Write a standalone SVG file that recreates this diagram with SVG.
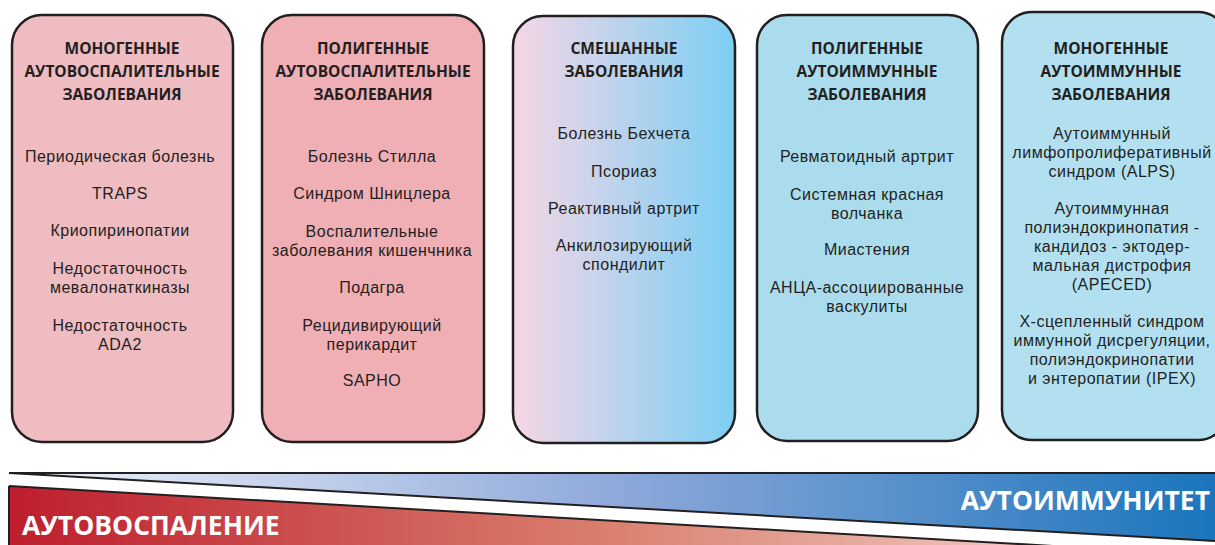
<svg xmlns="http://www.w3.org/2000/svg" width="1215" height="545" viewBox="0 0 1215 545">
<defs>
<linearGradient id="gMix" x1="0" y1="0" x2="1" y2="0">
<stop offset="0" stop-color="#f6d6e6"/><stop offset="1" stop-color="#7ccff3"/>
</linearGradient>
<linearGradient id="gBlue" x1="9" y1="0" x2="1215" y2="0" gradientUnits="userSpaceOnUse">
<stop offset="0" stop-color="#f2f4fb"/><stop offset="0.5" stop-color="#8fa9da"/><stop offset="1" stop-color="#1b75bc"/>
</linearGradient>
<linearGradient id="gRed" x1="9" y1="0" x2="1100" y2="0" gradientUnits="userSpaceOnUse">
<stop offset="0" stop-color="#be1e2d"/><stop offset="0.55" stop-color="#d9806f"/><stop offset="1" stop-color="#f4d3cb"/>
</linearGradient>
</defs>
<style>
.box{stroke:#231f20;stroke-width:2.5}
.t{font-family:"Open Sans","Liberation Sans",sans-serif;font-size:15.5px;font-weight:bold;fill:#231f20;text-anchor:middle}
.i{font-family:"Liberation Sans",Arial,sans-serif;font-size:16px;letter-spacing:0.5px;fill:#231f20;text-anchor:middle}
.big{font-family:"Open Sans","Liberation Sans",sans-serif;font-weight:bold;fill:#ffffff}
</style>
<g id="node1">
<rect class="box" x="12" y="15" width="221" height="427" rx="30" fill="#efbcc2"/>
<text class="t" x="122" y="54">МОНОГЕННЫЕ<tspan x="122" dy="23">АУТОВОСПАЛИТЕЛЬНЫЕ</tspan><tspan x="122" dy="23">ЗАБОЛЕВАНИЯ</tspan></text>
<text class="i" x="120" y="162">Периодическая болезнь</text>
<text class="i" x="120" y="199">TRAPS</text>
<text class="i" x="120" y="236">Криопиринопатии</text>
<text class="i" x="120" y="274">Недостаточность<tspan x="120" dy="19">мевалонаткиназы</tspan></text>
<text class="i" x="120" y="331">Недостаточность<tspan x="120" dy="18.5">ADA2</tspan></text>
</g>
<g id="node2">
<rect class="box" x="262" y="15" width="222" height="427" rx="30" fill="#f0aeb5"/>
<text class="t" x="373" y="54">ПОЛИГЕННЫЕ<tspan x="373" dy="23">АУТОВОСПАЛИТЕЛЬНЫЕ</tspan><tspan x="373" dy="23">ЗАБОЛЕВАНИЯ</tspan></text>
<text class="i" x="372" y="162">Болезнь Стилла</text>
<text class="i" x="372" y="199">Синдром Шницлера</text>
<text class="i" x="372" y="237">Воспалительные<tspan x="372" dy="18.5">заболевания кишенчника</tspan></text>
<text class="i" x="372" y="293">Подагра</text>
<text class="i" x="372" y="331">Рецидивирующий<tspan x="372" dy="18.5">перикардит</tspan></text>
<text class="i" x="372" y="386">SAPHO</text>
</g>
<g id="node3">
<rect class="box" x="513" y="16" width="222" height="427" rx="30" fill="url(#gMix)"/>
<text class="t" x="624" y="54">СМЕШАННЫЕ<tspan x="624" dy="23">ЗАБОЛЕВАНИЯ</tspan></text>
<text class="i" x="624" y="139">Болезнь Бехчета</text>
<text class="i" x="624" y="177">Псориаз</text>
<text class="i" x="624" y="214">Реактивный артрит</text>
<text class="i" x="624" y="251">Анкилозирующий<tspan x="624" dy="19">спондилит</tspan></text>
</g>
<g id="node4">
<rect class="box" x="757" y="15" width="221" height="426" rx="30" fill="#aadcee"/>
<text class="t" x="867" y="54">ПОЛИГЕННЫЕ<tspan x="867" dy="23">АУТОИММУННЫЕ</tspan><tspan x="867" dy="23">ЗАБОЛЕВАНИЯ</tspan></text>
<text class="i" x="867" y="162">Ревматоидный артрит</text>
<text class="i" x="867" y="200">Системная красная<tspan x="867" dy="18.5">волчанка</tspan></text>
<text class="i" x="867" y="255">Миастения</text>
<text class="i" x="867" y="293">АНЦА-ассоциированные<tspan x="867" dy="18.5">васкулиты</tspan></text>
</g>
<g id="node5">
<rect class="box" x="1002" y="12" width="226" height="428" rx="30" fill="#b2e0f1"/>
<text class="t" x="1111" y="54">МОНОГЕННЫЕ<tspan x="1111" dy="23">АУТОИММУННЫЕ</tspan><tspan x="1111" dy="23">ЗАБОЛЕВАНИЯ</tspan></text>
<text class="i" x="1112" y="139">Аутоиммунный<tspan x="1112" dy="19">лимфопролиферативный</tspan><tspan x="1112" dy="19">синдром (ALPS)</tspan></text>
<text class="i" x="1112" y="214">Аутоиммунная<tspan x="1112" dy="19">полиэндокринопатия -</tspan><tspan x="1112" dy="19">кандидоз - эктодер-</tspan><tspan x="1112" dy="19">мальная дистрофия</tspan><tspan x="1112" dy="18.5">(APECED)</tspan></text>
<text class="i" x="1112" y="327">Х-сцепленный синдром<tspan x="1112" dy="19">иммунной дисрегуляции,</tspan><tspan x="1112" dy="19">полиэндокринопатии</tspan><tspan x="1112" dy="18.5">и энтеропатии (IPEX)</tspan></text>
</g>
<g id="axis">
<polygon points="9,473 1215,473 1215,541" fill="url(#gBlue)"/>
<polygon points="9,486 1140,551 9,551" fill="url(#gRed)"/>
<g stroke="#231f20" stroke-width="2" fill="none">
<line x1="9" y1="473" x2="1215" y2="473"/>
<line x1="9" y1="473" x2="1215" y2="541"/>
<line x1="9" y1="486" x2="1140" y2="551"/>
<line x1="9" y1="486" x2="9" y2="545"/>
</g>
<text class="big" x="22" y="535" font-size="26.5">АУТОВОСПАЛЕНИЕ</text>
<text class="big" x="1210" y="510" font-size="26.5" text-anchor="end">АУТОИММУНИТЕТ</text>
</g>
</svg>
